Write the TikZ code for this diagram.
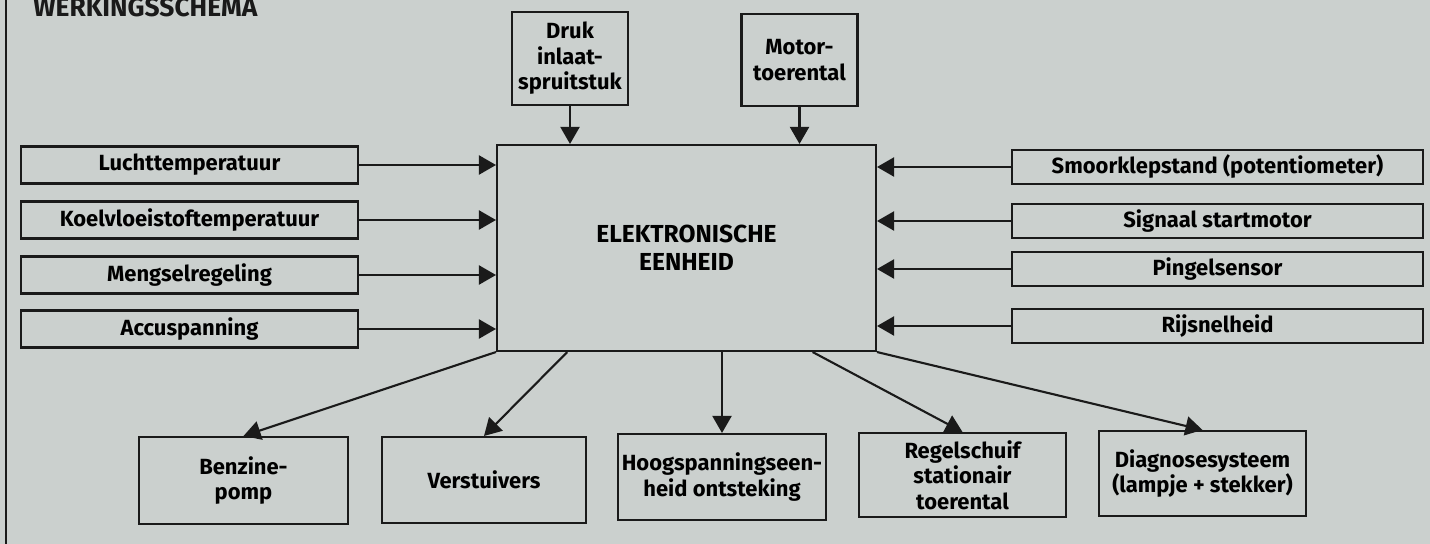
\documentclass[tikz,border=0pt]{standalone}
\usepackage{fontspec}
\setmainfont{Fira Sans}
\usetikzlibrary{arrows.meta,calc}
\definecolor{paper}{RGB}{203,208,206}
\definecolor{ink}{HTML}{1A1A1A}

\begin{document}
\begin{tikzpicture}[x=0.02cm,y=-0.02cm,
  box/.style={draw=ink,line width=1.2pt,align=center,inner sep=2pt,font=\fontsize{12.5}{14.5}\selectfont\bfseries},
  inbox/.style={box,minimum width=6.74cm,minimum height=0.74cm},
  sensbox/.style={box,minimum width=8.22cm,minimum height=0.68cm},
  topbox/.style={box,minimum width=2.32cm,minimum height=1.86cm},
  outbox/.style={box,minimum width=4.12cm,minimum height=1.72cm},
  arrow/.style={-{Triangle[length=0.34cm,width=0.38cm]},line width=1.2pt,draw=ink}
]
\fill[paper] (0,0) rectangle (1430,544);
\useasboundingbox (0,0) rectangle (1430,544);
\node[anchor=base west,font=\fontsize{15}{15}\selectfont\bfseries,text=ink,inner sep=0pt] (title) at (33,17) {WERKINGSSCHEMA};
\draw[ink,line width=1.7pt] (6,0) -- (6,544);
\node[box,minimum width=7.58cm,minimum height=4.12cm,font=\fontsize{14}{16}\selectfont\bfseries] (ecu) at (686.5,248)
  {ELEKTRONISCHE\\EENHEID};
\node[topbox] (druk) at (570,58.5) {Druk\\inlaat-\\spruitstuk};
\node[topbox,minimum height=1.84cm] (motor) at (799.5,60) {Motor-\\toerental};
\node[inbox] (lucht) at (189.5,165) {Luchttemperatuur};
\node[inbox] (koel) at (189.5,220) {Koelvloeistoftemperatuur};
\node[inbox] (meng) at (189.5,275) {Mengselregeling};
\node[inbox] (accu) at (189.5,329) {Accuspanning};
\node[sensbox] (smoor) at (1217.5,167) {Smoorklepstand (potentiometer)};
\node[sensbox] (start) at (1217.5,221) {Signaal startmotor};
\node[sensbox] (pingel) at (1217.5,269) {Pingelsensor};
\node[sensbox] (rij) at (1217.5,326) {Rijsnelheid};
\node[outbox,minimum width=4.18cm,minimum height=1.74cm] (benz) at (243.5,480.5) {Benzine-\\pomp};
\node[outbox,minimum width=4.08cm] (verst) at (484,480) {Verstuivers};
\node[outbox] (hoog) at (722,477) {Hoogspanningseen-\\heid ontsteking};
\node[outbox,minimum width=4.14cm,minimum height=1.68cm] (regel) at (962.5,475) {Regelschuif\\stationair\\toerental};
\node[outbox,minimum width=4.14cm,minimum height=1.7cm] (diag) at (1202.5,473.5) {Diagnosesysteem\\(lampje + stekker)};
\draw[arrow] (druk.south) -- (druk.south |- ecu.north);
\draw[arrow] (motor.south) -- (motor.south |- ecu.north);
\foreach \src in {lucht,koel,meng,accu}
  \draw[arrow] (\src.east) -- (\src.east -| ecu.west);
\foreach \src in {smoor,start,pingel,rij}
  \draw[arrow] (\src.west) -- (\src.west -| ecu.east);
\draw[arrow] (ecu.south west) -- (benz.north);
\draw[arrow] ($(ecu.south west)!0.187!(ecu.south east)$) -- (verst.north);
\draw[arrow] (hoog.north |- ecu.south) -- (hoog.north);
\draw[arrow] ($(ecu.south west)!0.831!(ecu.south east)$) -- (regel.north);
\draw[arrow] (ecu.south east) -- (diag.north);
\end{tikzpicture}
\end{document}
